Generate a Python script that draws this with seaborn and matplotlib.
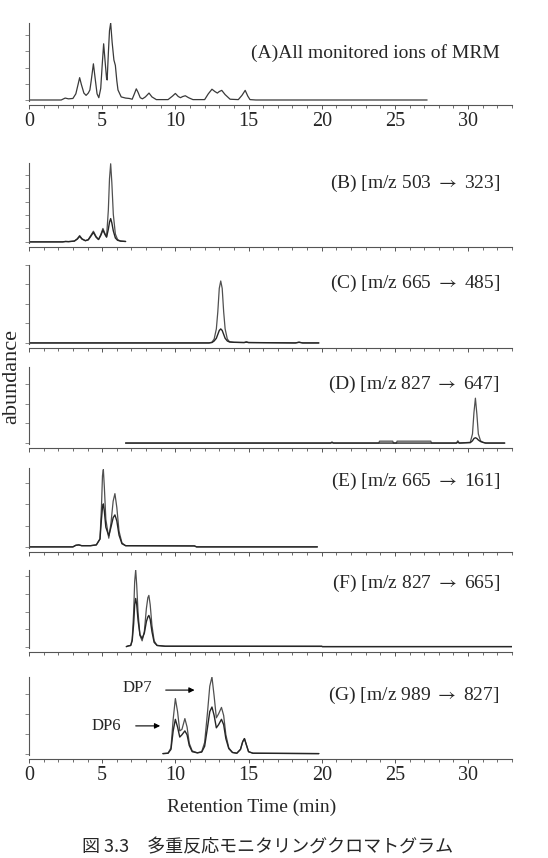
import matplotlib
matplotlib.use('Agg')
import matplotlib.pyplot as plt
import seaborn as sns

# ---------------- data (retention time in min, relative abundance in %) ----------------
a_t = [0, 2.2, 2.47, 2.7, 3.0, 3.2, 3.35, 3.46, 3.58, 3.75, 3.9, 4.05, 4.16, 4.25, 4.4,
       4.52, 4.65, 4.77, 4.9, 5.0, 5.1, 5.2, 5.3, 5.34, 5.42, 5.5, 5.58, 5.68, 5.8, 5.9,
       6.0, 6.08, 6.3, 6.6, 6.85, 7.05, 7.2, 7.33, 7.45, 7.6, 7.75, 7.95, 8.2, 8.4, 8.7,
       9.5, 9.8, 10.0, 10.2, 10.35, 10.5, 10.68, 10.9, 11.2, 12.0, 12.25, 12.5, 12.7, 12.87,
       13.0, 13.17, 13.4, 13.74, 14.3, 14.55, 14.77, 14.95, 15.1, 15.5, 27.2]
a_y = [0, 0, 2.5, 1.5, 2, 8, 20, 29, 20, 9, 6, 9, 13, 25, 47,
       28, 8, 3, 15, 45, 73, 50, 28, 26, 60, 90, 100, 75, 52, 45,
       25, 13, 4, 2.5, 2, 1, 8, 14.5, 10, 3, 1.5, 4, 9, 4, 0.5,
       0.5, 5, 8.5, 4.5, 3, 4.5, 5.5, 3, 0.5, 0.5, 8, 14, 11, 9,
       11, 12.5, 7, 1, 0.5, 6, 12.5, 5, 0.5, 0, 0]

b_t = [0, 2.3, 2.5, 2.7, 3.1, 3.3, 3.46, 3.62, 3.85, 4.05, 4.22, 4.4, 4.58, 4.75, 4.9,
       5.05, 5.2, 5.3, 5.42, 5.5, 5.58, 5.66, 5.76, 5.9, 6.05, 6.25, 6.6]
b_hi = [0, 0, 0.5, 0.3, 1, 4, 8, 4, 1.5, 3, 8, 13.5, 7, 3, 9,
        17, 10, 6.5, 40, 80, 99, 75, 35, 10, 3, 1, 0.5]
b_lo = [0, 0, 0.5, 0.3, 1, 3.5, 7, 3.5, 1.5, 2.5, 7, 12, 6, 3, 8,
        15, 9, 6, 16, 25, 29.5, 24, 14, 5, 2, 1, 0.5]

c_t = [0, 12.3, 12.5, 12.65, 12.8, 12.9, 13.0, 13.1, 13.2, 13.3, 13.4, 13.55, 13.7, 14.0,
       14.7, 14.85, 15.0, 18.2, 18.45, 18.7, 19.8]
c_hi = [0, 0, 1, 5, 18, 40, 70, 79.5, 70, 40, 18, 5, 1.5, 0.8, 0.5, 1.5, 0.5, 0, 1, 0, 0]
c_lo = [0, 0, 0.5, 2.5, 6, 11, 16, 18, 16, 11, 6, 2.5, 1.2, 0.8, 0.5, 1, 0.5, 0, 0.8, 0, 0]

d_t = [6.6, 20.6, 20.7, 20.8, 23.9, 23.95, 24.85, 24.9, 25.1, 25.15, 27.45, 27.5, 29.2,
       29.3, 29.4, 30.15, 30.3, 30.4, 30.5, 30.6, 30.7, 30.85, 31.0, 31.2, 32.5]
d_hi = [0, 0, 1.5, 0, 0, 2.5, 2.5, 0, 0, 2.5, 2.5, 0, 0, 3, 0, 1, 12, 40, 59, 38, 12, 3, 1, 0, 0]
d_lo = [0, 0, 0.5, 0, 0, 0, 0, 0, 0, 0, 0, 0, 0, 1, 0, 0.5, 3, 6, 7, 6, 4, 2, 1, 0, 0]

e_t = [0, 3.0, 3.2, 3.4, 3.6, 3.9, 4.2, 4.6, 4.85, 4.95, 5.02, 5.08, 5.15, 5.25, 5.45,
       5.6, 5.75, 5.87, 6.0, 6.15, 6.35, 6.6, 11.3, 11.45, 19.7]
e_hi = [0, 0, 2, 2.5, 1.5, 1.5, 1.5, 2.5, 10, 50, 90, 98, 75, 35, 11,
        30, 58, 67.5, 50, 20, 5, 1.5, 1.2, 0, 0]
e_lo = [0, 0, 2, 2.5, 1.5, 1.5, 1.5, 2.5, 10, 35, 50, 54.5, 45, 25, 14,
        25, 37, 40.5, 33, 15, 4, 1.5, 1.2, 0, 0]

f_t = [6.65, 6.8, 6.95, 7.05, 7.15, 7.22, 7.29, 7.36, 7.45, 7.58, 7.73, 7.88, 8.02, 8.12,
       8.19, 8.28, 8.4, 8.55, 8.75, 9.3, 20.0, 20.05, 33.0]
f_hi = [0.5, 1.5, 2, 10, 45, 85, 100, 80, 45, 15, 8, 20, 50, 64, 67, 55, 28, 8, 2, 1, 1, 0.5, 0.5]
f_lo = [0.5, 1.5, 2, 8, 30, 55, 63, 55, 35, 16, 11, 18, 33, 39, 41, 36, 20, 6, 2, 1, 0.8, 0.5, 0.5]

g_t = [9.15, 9.5, 9.7, 9.85, 10.0, 10.15, 10.3, 10.45, 10.65, 10.8, 10.95, 11.15, 11.5,
       11.8, 12.0, 12.2, 12.35, 12.5, 12.65, 12.8, 12.95, 13.15, 13.3, 13.45, 13.65, 13.9,
       14.2, 14.45, 14.6, 14.72, 14.85, 15.0, 15.3, 19.8]
g_hi = [0.5, 1, 8, 45, 72, 55, 30, 32, 46, 35, 14, 4, 1.5, 3, 15, 55, 88, 100, 75, 47, 52,
        60.5, 50, 25, 8, 2, 1, 6, 16, 20, 12, 3, 1, 0.5]
g_lo = [0.5, 1, 6, 30, 45, 35, 22, 25, 30, 25, 11, 3, 1.5, 2.5, 10, 35, 55, 61, 50, 34, 38,
        45, 38, 20, 7, 2, 1, 6, 16, 20, 12, 3, 1, 0.5]

panel_labels = ["(A)All monitored ions of MRM",
                "(B) [m/z 503 $\\rightarrow$ 323]",
                "(C) [m/z 665 $\\rightarrow$ 485]",
                "(D) [m/z 827 $\\rightarrow$ 647]",
                "(E) [m/z 665 $\\rightarrow$ 161]",
                "(F) [m/z 827 $\\rightarrow$ 665]",
                "(G) [m/z 989 $\\rightarrow$ 827]"]
x_ticks = [0, 5, 10, 15, 20, 25, 30]
x_label = "Retention Time (min)"
y_label = "abundance"
caption = "\u56f3 3.3\u3000\u591a\u91cd\u53cd\u5fdc\u30e2\u30cb\u30bf\u30ea\u30f3\u30b0\u30af\u30ed\u30de\u30c8\u30b0\u30e9\u30e0"
arrow_labels = ["DP7", "DP6"]

# ---------------- styling ----------------
sns.set_style('ticks')
SERIF = ['Liberation Serif', 'DejaVu Serif']
plt.rcParams['font.family'] = SERIF
plt.rcParams['mathtext.fontset'] = 'stix'
plt.rcParams['axes.edgecolor'] = '#555555'
plt.rcParams['axes.linewidth'] = 0.8

W, H = 548, 858
fig = plt.figure(figsize=(W / 100, H / 100), dpi=100)
X0, X1 = 29, 512

# (top px, bottom px, traces, label y-fraction, ytick step, show x labels)
panels = [
    (23, 105, [(a_t, a_y)], 0.63, 21, True),
    (163, 247, [(b_t, b_hi), (b_t, b_lo)], 0.76, 17, False),
    (265, 348, [(c_t, c_hi), (c_t, c_lo)], 0.78, 25, False),
    (367, 448, [(d_t, d_hi), (d_t, d_lo)], 0.78, 26, False),
    (468, 552, [(e_t, e_hi), (e_t, e_lo)], 0.84, 27, False),
    (570, 652, [(f_t, f_hi), (f_t, f_lo)], 0.84, 23, False),
    (677, 759, [(g_t, g_hi), (g_t, g_lo)], 0.78, 26, True),
]
trace_styles = [dict(color='#505050', linewidth=0.9), dict(color='#262626', linewidth=1.0)]

axes = []
for i, (top, bot, traces, ly, ystep, showx) in enumerate(panels):
    ax = fig.add_axes([X0 / W, 1 - bot / H, (X1 - X0) / W, (bot - top) / H])
    for j, (t, y) in enumerate(traces):
        style = trace_styles[j] if len(traces) > 1 else dict(color='#3a3a3a', linewidth=0.9)
        sns.lineplot(x=t, y=y, ax=ax, estimator=None, sort=False, legend=False, **style)
    ax.set_xlim(0, 33)
    ax.set_ylim(-6.5, 100)
    ax.spines['top'].set_visible(False)
    ax.spines['right'].set_visible(False)
    ax.spines['left'].set_bounds(-1, 100)
    ax.set_xticks(x_ticks)
    ax.set_xticks(range(0, 34), minor=True)
    yt = [k * ystep for k in range(int(100 // ystep) + 1)]
    ax.set_yticks(yt)
    ax.set_yticklabels([])
    ax.tick_params(axis='x', which='major', direction='out', length=3.2, width=0.7,
                   color='#555555', labelsize=14.5, pad=1.5)
    ax.tick_params(axis='x', which='minor', direction='out', length=2.4, width=0.6,
                   color='#555555')
    ax.tick_params(axis='y', direction='out', length=3, width=0.6, color='#777777')
    if not showx:
        ax.set_xticklabels([])
    ax.set_xlabel('')
    ax.set_ylabel('')
    ax.text(0.975, ly, panel_labels[i], transform=ax.transAxes, ha='right', va='center',
            fontsize=14, family=SERIF)
    axes.append(ax)

# arrows in panel G
axg = axes[-1]
axg.annotate('', xy=(11.5, 83), xytext=(9.15, 83),
             arrowprops=dict(arrowstyle='-|>', color='black', lw=0.8, mutation_scale=8))
axg.text(8.4, 85.5, arrow_labels[0], ha='right', va='center', fontsize=12, family=SERIF)
axg.annotate('', xy=(9.15, 36.5), xytext=(7.1, 36.5),
             arrowprops=dict(arrowstyle='-|>', color='black', lw=0.8, mutation_scale=8))
axg.text(6.3, 36.5, arrow_labels[1], ha='right', va='center', fontsize=12, family=SERIF)

fig.text(252 / W, 1 - 807 / H, x_label, ha='center', va='center', fontsize=14, family=SERIF)
fig.text(12 / W, 1 - 376 / H, y_label, ha='center', va='center', rotation=90,
         fontsize=16, family=SERIF)
fig.text(268 / W, 1 - 847 / H, caption, ha='center', va='center', fontsize=13,
         family=['Noto Sans CJK JP', 'DejaVu Sans'])

fig.savefig('out.png', dpi=100)
